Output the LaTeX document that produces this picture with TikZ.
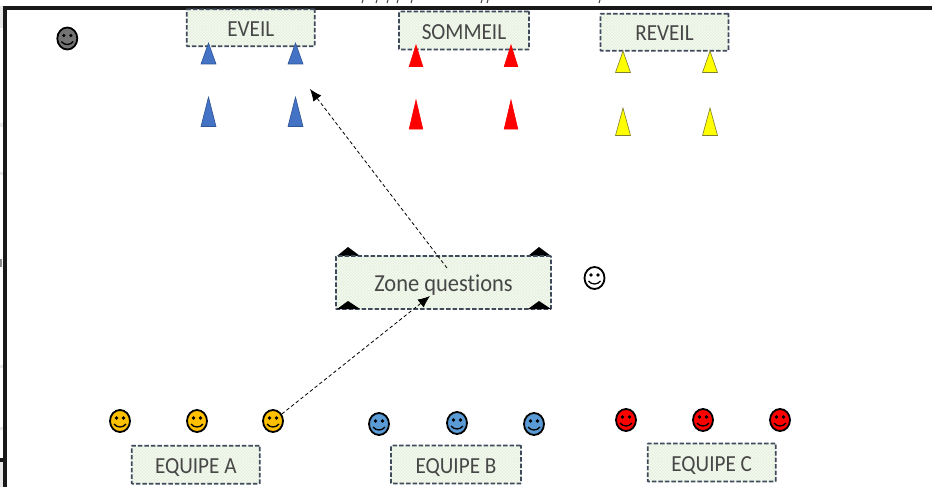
\documentclass[tikz,border=0pt]{standalone}
\usepackage{fontspec}
\setmainfont[FakeStretch=0.92,Ligatures=NoCommon]{Carlito}
\usetikzlibrary{arrows.meta,patterns,shapes.geometric}
\definecolor{boxfill}{HTML}{E3EFDA}
\definecolor{boxline}{HTML}{3F4A5C}
\definecolor{conblue}{HTML}{4472C4}
\definecolor{conblueline}{HTML}{2F5597}
\definecolor{conyellow}{HTML}{FFFF00}
\definecolor{conyellowline}{HTML}{7F7F30}
\definecolor{teamA}{HTML}{FFC000}
\definecolor{teamB}{HTML}{5B9BD5}
\definecolor{edgegray}{HTML}{E8E8E8}
\tikzset{
  x=1pt,y=-1pt,
  labelbox/.style={draw=boxline,line width=1.7pt,dash pattern=on 4.5pt off 2pt,
    preaction={fill=boxfill},pattern=crosshatch,pattern color=white!70!boxfill,
    rounded corners=0.5pt,minimum width=128pt,minimum height=37pt,inner sep=0pt,
    text=black!72,font=\fontsize{23}{26}\selectfont},
  flow/.style={draw=black,line width=0.8pt,dash pattern=on 3.5pt off 2.5pt,-{Latex[length=12pt,width=10pt]}},
  frameline/.style={draw=black!90,line width=4pt},
  edgebar/.style={fill=edgegray},
  clipmark/.style={draw=black!75,line width=1pt},
}
\newcommand{\lbl}[1]{\raisebox{-8.6pt}[0pt][0pt]{#1}}
\newcommand{\cone}[6]{% x, top y, bottom y, half width, colour, outline
  \fill[#5,draw=#6,line width=0.6pt] (#1-#4,#3) -- (#1,#2) -- (#1+#4,#3) -- cycle;}
\newcommand{\smiley}[4]{% name, x, y, colour
  \node[ellipse,draw=black,fill=#4,line width=1.8pt,minimum width=20pt,minimum height=22pt,inner sep=0pt] (#1) at (#2,#3) {};
  \fill[black] (#2-3.5,#3-3) circle (1.8pt) (#2+3.5,#3-3) circle (1.8pt);
  \draw[black,line width=1.3pt] (#2-6,#3+3) .. controls (#2-3,#3+7) and (#2+3,#3+7) .. (#2+6,#3+3);
}
\begin{document}
\begin{tikzpicture}
\useasboundingbox (0,0) rectangle (932,487);
\fill[white] (0,0) rectangle (932,487);
\fill[edgebar] (0,6) rectangle (3,28);
\fill[edgebar] (0,123) rectangle (3,127);
\fill[edgebar] (0,172) rectangle (3,175);
\fill[edgebar] (0,365) rectangle (3,368);
\fill[edgebar] (0,427) rectangle (3,430);
\fill[edgebar] (0,462) rectangle (3,487);
\draw[frameline] (5,487) -- (5,8) -- (932,8);
\draw[draw=black!90,line width=4pt] (0,460) -- (5,460);
\fill[black!45] (0,259) rectangle (2,267);
% clipped text at the top edge
\foreach \mx in {363,377,388,398,412,482,488,600} \draw[clipmark] (\mx,0) -- (\mx-1,3);

\node[labelbox] (eveil) at (250.8,27.8) {\lbl{EVEIL}};
\node[labelbox,minimum width=130pt,minimum height=38pt] (sommeil) at (464,30.5) {\lbl{SOMMEIL}};
\node[labelbox] (reveil) at (664.5,32.2) {\lbl{REVEIL}};
\fill[black] (337,256) -- (348,247) -- (360,256) -- cycle;
\fill[black] (528,256) -- (539,247) -- (551,256) -- cycle;
\node[labelbox,minimum width=215pt,minimum height=53pt,font=\fontsize{24.4}{28}\selectfont] (zone) at (443.5,282.5) {\lbl{Zone questions}};
\node[labelbox,minimum height=38pt] (eqa) at (195.8,464.7) {\lbl{EQUIPE A}};
\node[labelbox,minimum width=130pt,minimum height=38pt] (eqb) at (456,464.5) {\lbl{EQUIPE B}};
\node[labelbox,minimum height=38pt] (eqc) at (711.7,462.5) {\lbl{EQUIPE C}};

\fill[black] (337,309) -- (348,301) -- (360,309) -- cycle;
\fill[black] (528,309) -- (539,301) -- (551,309) -- cycle;

\cone{208.5}{43}{64}{7.5}{conblue}{conblueline}
\cone{295.5}{43}{64}{7.5}{conblue}{conblueline}
\cone{208.5}{97}{126.5}{7.5}{conblue}{conblueline}
\cone{295.5}{97}{126.5}{7.5}{conblue}{conblueline}
\cone{416}{45}{66.5}{6.8}{red}{red}
\cone{511}{45}{66.5}{6.8}{red}{red}
\cone{416}{100}{129}{6.8}{red}{red}
\cone{511}{100}{129}{6.8}{red}{red}
\cone{623}{51}{72.5}{7.5}{conyellow}{conyellowline}
\cone{710}{51}{72.5}{7.5}{conyellow}{conyellowline}
\cone{623}{108}{135.5}{7.5}{conyellow}{conyellowline}
\cone{710}{108}{135.5}{7.5}{conyellow}{conyellowline}

\smiley{judge}{67.3}{38.5}{gray!90!black}
\smiley{host}{594.5}{278}{white}
\smiley{a1}{120}{421}{teamA}
\smiley{a2}{197}{421}{teamA}
\smiley{a3}{273}{421}{teamA}
\smiley{b1}{379}{424}{teamB}
\smiley{b2}{457}{423}{teamB}
\smiley{b3}{534}{424}{teamB}
\smiley{c1}{626}{420}{red}
\smiley{c2}{703}{420}{red}
\smiley{c3}{780}{420}{red}

\coordinate (zonefrom) at (447,268);
\coordinate (eveilto) at (310,89);
\coordinate (zoneto) at (430,296);
\draw[flow] (zonefrom) -- (eveilto);
\draw[flow] (a3) -- (zoneto);
\end{tikzpicture}
\end{document}
